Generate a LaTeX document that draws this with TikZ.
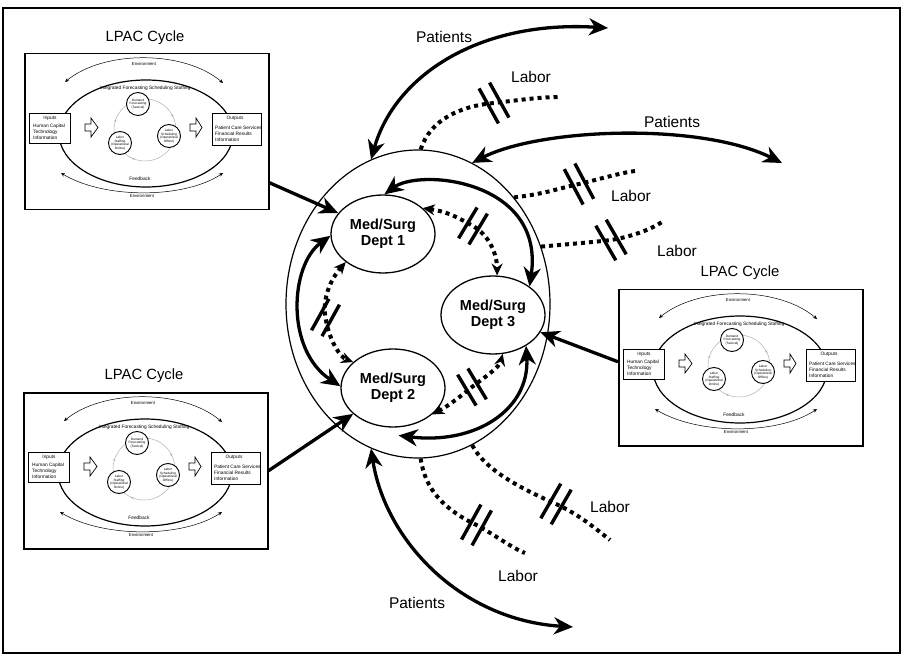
\documentclass[tikz,border=0pt]{standalone}
\usepackage{fontspec}
\setmainfont{Liberation Sans}
\usetikzlibrary{arrows.meta,shapes.geometric}

% One small "LPAC Cycle" schematic, #1 = name, (#2,#3) = top-left corner
\newcommand{\lpacthumb}[3]{%
  \begin{scope}[shift={(#2,#3)}]
    \node[thumbframe, anchor=north west] (#1) at (0,0) {};
    \draw[line width=1.2pt] (122,80.5) ellipse [x radius=87, y radius=53.5];
    \draw[envarc] (41,29) .. controls (80,-3) and (160,-3) .. (199,30);
    \draw[envarc] (37,120) .. controls (80,146) and (160,146) .. (199,120);
    \node[tinytext] (#1envtop) at (120,11) {Environment};
    \node[tinytext] (#1envbot) at (118,143) {Environment};
    \node[thumbtext] (#1int) at (121,35.5) {Integrated Forecasting Scheduling Staffing};
    \node[thumbtext] (#1fb) at (116,126) {Feedback};
    \draw[ringline] (121,77) circle [radius=31];
    \draw[ringline, -{Stealth[length=2.6pt,width=2.6pt]}] (148.3,62.1) -- (149.1,63.9);
    \draw[ringline, -{Stealth[length=2.6pt,width=2.6pt]}] (109.7,105.9) -- (107.9,105.1);
    \draw[ringline, -{Stealth[length=2.6pt,width=2.6pt]}] (91.2,68.3) -- (91.9,66.4);
    \node[cycnode] (#1df) at (114,51) {Demand\\Forecasting\\(Tactical)};
    \node[cycnode] (#1ls) at (145,83) {Labor\\Scheduling\\(Operational\\Offline)};
    \node[cycnode] (#1lf) at (96,90) {Labor\\Staffing\\(Operational\\Online)};
    \node[iobox, minimum width=41pt, minimum height=30pt] (#1in) at (25.5,75) {};
    \node[thumbtext] (#1inh) at (26,65) {Inputs};
    \node[thumbtext, anchor=west, align=left] (#1inl) at (9,79) {Human Capital\\Technology\\Information};
    \node[iobox, minimum width=49pt, minimum height=32pt] (#1out) at (212.5,76) {};
    \node[thumbtext] (#1outh) at (211,65) {Outputs};
    \node[thumbtext, anchor=west, align=left] (#1outl) at (191,80.5) {Patient Care Services\\Financial Results\\Information};
    \draw[blockarr] (61,71) -- (67,71) -- (67,65) -- (74,74.5) -- (67,84) -- (67,78) -- (61,78) -- cycle;
    \draw[blockarr] (166,71) -- (172,71) -- (172,65) -- (178,74.5) -- (172,84) -- (172,78) -- (166,78) -- cycle;
  \end{scope}}

\begin{document}
\begin{tikzpicture}[x=1pt,y=-1pt]
\tikzset{
  bigtip/.tip={Stealth[length=19pt,width=17pt,inset=6pt]},
  smalltip/.tip={Stealth[length=12pt,width=11pt,inset=4pt]},
  thintip/.tip={Stealth[length=4pt,width=3.5pt,inset=1.2pt]},
  flow/.style={line width=3.3pt, bigtip-bigtip},
  feed/.style={line width=3.3pt, -bigtip},
  dotline/.style={line width=4pt, dash pattern=on 4pt off 4pt},
  dotflow/.style={dotline, smalltip-smalltip},
  dept/.style={draw, ellipse, line width=1.3pt, minimum width=104pt, minimum height=78pt,
    inner sep=0pt, align=center, font=\fontsize{14.5}{16.5}\selectfont\bfseries},
  lbl/.style={font=\fontsize{15.5}{18}\selectfont, anchor=base, inner sep=0pt},
  ttl/.style={font=\fontsize{14.8}{18}\selectfont, anchor=base, inner sep=0pt},
  brk/.pic={\draw[line width=3.4pt, solid] (-6,-20) -- (-6,20) (6,-20) -- (6,20);},
  brksmall/.pic={\draw[line width=3.4pt, solid] (-6,-18) -- (-6,18) (6,-18) -- (6,18);},
  thumbframe/.style={draw, line width=1.5pt, minimum width=244pt, minimum height=156pt, inner sep=0pt},
  envarc/.style={line width=0.5pt, thintip-thintip},
  ringline/.style={line width=0.5pt, gray!60},
  cycnode/.style={draw, circle, line width=0.9pt, fill=white, minimum size=23pt, inner sep=0pt,
    align=center, font=\fontsize{3.2}{3.6}\selectfont},
  iobox/.style={draw, line width=0.9pt, fill=white, inner sep=0pt},
  tinytext/.style={font=\fontsize{4.3}{5}\selectfont, inner sep=0pt},
  thumbtext/.style={font=\fontsize{4.8}{6}\selectfont, inner sep=0pt},
  blockarr/.style={line width=0.7pt, fill=white},
}
\useasboundingbox (0,0) rectangle (903,655);
\fill[white] (0,0) rectangle (903,655);
\draw[line width=1.5pt] (3,8) rectangle (900,653);

% the three LPAC cycle schematics
\lpacthumb{L1}{24}{53}
\lpacthumb{L2}{23}{392}
\lpacthumb{L3}{618}{289}
\node[ttl] (t1) at (145,42) {LPAC Cycle};
\node[ttl] (t2) at (144,379) {LPAC Cycle};
\node[ttl] (t3) at (740,277) {LPAC Cycle};

% hospital unit and its departments
\node[draw, ellipse, line width=1.2pt, minimum width=264pt, minimum height=308pt] (hub) at (418,304) {};
\node[dept] (d1) at (383,234) {Med/Surg\\Dept 1};
\node[dept] (d3) at (493,315) {Med/Surg\\Dept 3};
\node[dept] (d2) at (393,388) {Med/Surg\\Dept 2};

% patient flows between departments
\draw[flow] (d1.88) .. controls (420,168) and (545,180) .. (d3.38);
\draw[flow] (d1.182) .. controls (290,265) and (285,350) .. (d2.178);
\draw[flow] ([yshift=-8pt]d2.-82) .. controls (475,445) and (530,410) .. (d3.-43);

% labor exchanges between departments
\coordinate (ka) at (473,226);
\coordinate (kb) at (325.5,317.5);
\coordinate (kc) at (472,387);
\draw[dotflow] (d1.33) .. controls (450,212) and (462,220) .. (ka) .. controls (490,236) and (497,255) .. (d3.84);
\draw[dotflow] (d1.217) .. controls (330,280) and (322,300) .. (kb) .. controls (329,340) and (340,357) .. (d2.147);
\draw[dotflow] (d2.-34) .. controls (450,405) and (462,395) .. (kc) .. controls (486,376) and (499,368) .. (d3.-76);
\pic[rotate=-31] at (ka) {brksmall};
\pic[rotate=-29] at (kb) {brksmall};
\pic[rotate=31] at (kc) {brksmall};

% planning input from each LPAC cycle
\draw[feed] ([yshift=-51pt]L1.east) -- (d1.155);
\draw[feed] (L2.east) -- (d2.213);
\draw[feed] ([yshift=6pt]L3.west) -- (d3.-20);

% patients entering and leaving
\coordinate (pe1) at (608,28);
\coordinate (pe2) at (782,163);
\coordinate (pe3) at (573,627);
\draw[flow] (hub.108) .. controls (395,75) and (480,20) .. (pe1);
\draw[flow] (hub.69) .. controls (540,128) and (700,122) .. (pe2);
\draw[flow] (hub.252) .. controls (385,540) and (460,620) .. (pe3);
\node[lbl] (pt1) at (444,43) {Patients};
\node[lbl] (pt2) at (672,128) {Patients};
\node[lbl] (pt3) at (417,608) {Patients};

% external labor
\coordinate (k1) at (494,103);  \coordinate (e1) at (560,97);
\coordinate (k2) at (579,184);  \coordinate (e2) at (635,171);
\coordinate (k3) at (611,240);  \coordinate (e3) at (662,222);
\coordinate (k4) at (556,504);  \coordinate (e4) at (610,540);
\coordinate (k5) at (476.5,525); \coordinate (e5) at (525,553);
\draw[dotline] (hub.89) .. controls (430,120) and (460,106) .. (k1) .. controls (520,100) and (540,97) .. (e1);
\draw[dotline] (hub.48) .. controls (545,194) and (560,188) .. (k2) .. controls (600,179) and (620,173) .. (e2);
\draw[dotline] (hub.25) .. controls (570,244) and (595,242) .. (k3) .. controls (630,237) and (650,230) .. (e3);
\draw[dotline] (hub.291) .. controls (485,470) and (520,488) .. (k4) .. controls (578,514) and (595,528) .. (e4);
\draw[dotline] (hub.271) .. controls (425,490) and (445,510) .. (k5) .. controls (495,535) and (512,548) .. (e5);
\pic[rotate=29] at (k1) {brk};
\pic[rotate=28] at (k2) {brk};
\pic[rotate=30] at (k3) {brk};
\pic[rotate=-30] at (k4) {brk};
\pic[rotate=-29] at (k5) {brk};
\node[lbl] (lb1) at (531,83) {Labor};
\node[lbl] (lb2) at (631,202) {Labor};
\node[lbl] (lb3) at (677,257) {Labor};
\node[lbl] (lb4) at (610,512) {Labor};
\node[lbl] (lb5) at (518,581) {Labor};
\end{tikzpicture}
\end{document}
